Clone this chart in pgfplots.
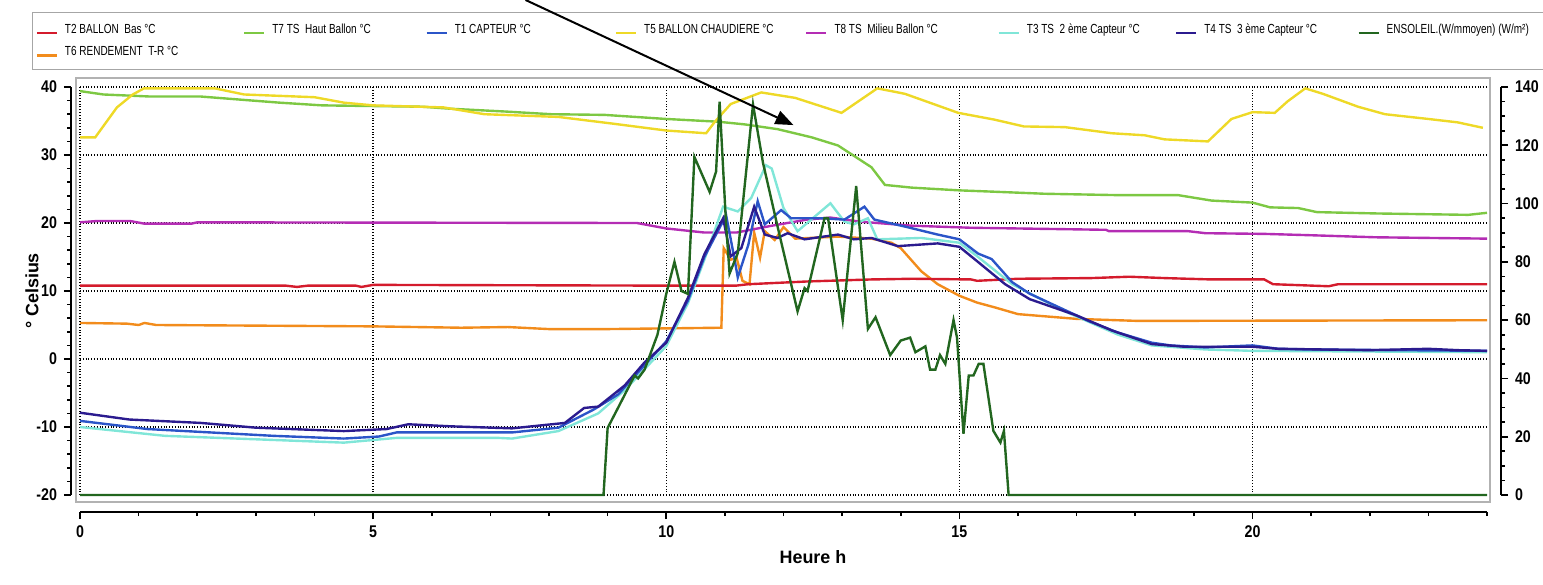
\documentclass[border=0pt]{standalone}
\usepackage{fontspec}
\setmainfont{Liberation Sans}
\newfontfamily\narrow[FakeStretch=0.84]{Liberation Sans}
\newfontfamily\legfont[FakeStretch=0.76]{Liberation Sans}
\usepackage{pgfplots}
\pgfplotsset{compat=1.18}
\usetikzlibrary{arrows.meta}

\definecolor{tred}{HTML}{D41B2C}
\definecolor{tlime}{HTML}{7DC843}
\definecolor{tblue}{HTML}{2B55C8}
\definecolor{tyellow}{HTML}{EED927}
\definecolor{tmagenta}{HTML}{B42DB4}
\definecolor{tcyan}{HTML}{80E6D8}
\definecolor{tnavy}{HTML}{2B1B8F}
\definecolor{tsun}{HTML}{22661F}
\definecolor{torange}{HTML}{F28C1C}

\pgfplotsset{
  common/.style={
    width=703.5bp, height=204bp, scale only axis,
    xmin=0, xmax=24, clip=false,
    tick align=outside, major tick length=3.5bp, minor tick length=2bp,
    tick style={black, line width=0.8pt},
    axis line style={black, line width=0.8pt},
    ticklabel style={font=\narrow\bfseries\fontsize{8.5}{9}\selectfont},
    every axis plot/.append style={line width=1.2pt},
  },
}

\begin{document}
\begin{tikzpicture}
\begin{axis}[common, name=main,
  ymin=-20, ymax=40,
  axis x line*=bottom, axis y line*=left,
  axis x line shift=8.5bp, axis y line shift=4.5bp,
  xtick={0,5,10,15,20}, xticklabels={0,5,10,15,20},
  minor xtick={1,2,3,4,6,7,8,9,11,12,13,14,16,17,18,19,21,22,23,24},
  ytick={-20,-10,0,10,20,30,40}, yticklabels={-20,-10,0,10,20,30,40},
  minor y tick num=4,
  grid=major, major grid style={densely dotted, black, line width=0.7pt},
  xlabel={Heure h}, ylabel={° Celsius},
  label style={font=\bfseries\fontsize{9}{10}\selectfont},
  xlabel style={at={([xshift=14.75bp,yshift=-31bp]axis description cs:0.5,0)}, anchor=center},
  ylabel style={at={([xshift=-24bp]axis description cs:0,0.5)}, anchor=center},
  legend columns=8,
  legend cell align=left,
  legend image code/.code={\draw[#1] (0bp,0bp) -- (10bp,0bp);},
  legend style={at={(axis description cs:0,1)}, anchor=north west,
    xshift=-24bp, yshift=37.5bp, draw=gray!70, line width=0.6pt, fill=white,
    inner xsep=1.5bp, inner ysep=5.5bp,
    font=\legfont\fontsize{6.6}{7.5}\selectfont,
    nodes={inner sep=0pt, anchor=base west},
    column sep=3.5bp, row sep=5bp,
    /tikz/every even column/.append style={column sep=0pt}},
]
% T6 rendement
\addplot[torange, forget plot] coordinates {
(0,5.3) (0.8,5.2) (1.0,5.0) (1.1,5.3) (1.3,5.0) (5,4.8) (6.5,4.6) (7.3,4.7) (8,4.4) (9,4.4)
(10.94,4.6) (10.98,16.3) (11.1,14.6) (11.2,14.9) (11.3,11.5) (11.42,11.0) (11.5,18.6) (11.6,14.9)
(11.68,18.8) (11.85,17.5) (12.0,19.4) (12.2,17.7) (12.93,18.0) (13.5,17.7) (13.84,17.1) (14.0,16.3)
(14.35,12.9) (14.63,11.0) (15.0,9.3) (15.3,8.3) (15.6,7.6) (16.0,6.6) (17.0,5.9) (18.05,5.6) (24,5.7)
};
% T2 ballon bas
\addplot[tred, forget plot] coordinates {
(0,10.8) (3.5,10.8) (3.7,10.6) (3.9,10.8) (4.7,10.8) (4.8,10.6) (5,10.9) (9.5,10.8) (11.2,10.8)
(11.4,11.0) (12.4,11.4) (13.5,11.7) (14.2,11.8) (15.2,11.7) (15.3,11.5) (16,11.8) (17.25,11.9)
(17.9,12.1) (18.5,11.9) (19.3,11.7) (20.2,11.7) (20.35,11.0) (21.3,10.7) (21.46,11.0) (24,11.0)
};
% T8 milieu ballon
\addplot[tmagenta, forget plot] coordinates {
(0,20.1) (0.3,20.3) (0.85,20.3) (1.1,19.9) (1.9,19.9) (2.0,20.1) (9.5,20.0) (10,19.2) (10.65,18.6)
(11.2,18.6) (11.8,19.6) (12.4,20.5) (12.8,20.8) (13.3,20.2) (14.2,19.6) (15.2,19.3) (17.5,19.0)
(17.55,18.8) (18.9,18.8) (19.2,18.5) (20.2,18.4) (21,18.2) (22.1,17.9) (24,17.7)
};
% T7 haut ballon
\addplot[tlime, forget plot] coordinates {
(0,39.4) (0.4,38.9) (1.2,38.6) (2.06,38.6) (2.8,38.1) (3.4,37.7) (4.13,37.3) (5,37.2) (5.84,37.1)
(6.33,36.8) (7.24,36.4) (8.04,36.0) (8.95,35.9) (10,35.3) (10.88,34.9) (11.34,34.5) (11.9,33.8)
(12.48,32.6) (12.93,31.4) (13.5,28.2) (13.73,25.6) (14.19,25.2) (15,24.8) (15.6,24.6) (16.46,24.3)
(17.7,24.1) (18.73,24.1) (19.3,23.3) (20,23.0) (20.3,22.3) (20.78,22.2) (21.1,21.6) (22.14,21.4)
(23.68,21.2) (24,21.5)
};
% T5 ballon chaudiere
\addplot[tyellow, forget plot] coordinates {
(0,32.6) (0.26,32.6) (0.63,37.0) (0.9,38.9) (1.09,39.8) (2.3,39.8) (2.8,38.9) (4.0,38.5) (4.5,37.7)
(5.0,37.3) (6.2,37.0) (6.9,36.0) (8.16,35.6) (9.1,34.6) (10,33.6) (10.68,33.2) (10.83,34.9)
(11.1,37.5) (11.62,39.2) (12.2,38.4) (12.99,36.2) (13.6,39.8) (14.07,39.0) (14.98,36.2) (15.6,35.2)
(16.1,34.2) (16.8,34.1) (17.6,33.2) (18.16,32.9) (18.5,32.3) (19.24,32.0) (19.41,33.4) (19.64,35.3)
(20.0,36.3) (20.38,36.2) (20.6,37.9) (20.9,39.8) (21.2,39.0) (21.8,37.1) (22.26,36.0) (23.0,35.3)
(23.5,34.8) (23.93,34.0)
};
% T3 2eme capteur
\addplot[tcyan, forget plot] coordinates {
(0,-10.0) (1.45,-11.3) (4.5,-12.3) (5.4,-11.6) (7.13,-11.6) (7.37,-11.7) (8.16,-10.6) (8.84,-8.0)
(9.29,-4.6) (10,1.9) (10.37,8.2) (10.65,14.6) (10.97,22.4) (11.22,21.7) (11.45,23.7) (11.7,28.5)
(11.8,28.0) (12.0,22.2) (12.24,18.8) (12.8,22.9) (13.04,20.2) (13.2,19.8) (13.44,20.7) (13.6,17.6)
(14.35,17.8) (15.0,17.1) (15.32,15.0) (15.9,11.0) (16.75,7.2) (17.7,3.6) (18.28,2.0) (19.2,1.4)
(20,1.2) (24,1.0)
};
% T1 capteur
\addplot[tblue, forget plot] coordinates {
(0,-9.1) (1.15,-10.3) (3.3,-11.3) (4.5,-11.7) (5.1,-11.4) (5.4,-10.8) (7.37,-10.8) (8.16,-10.1)
(8.77,-7.4) (9.18,-5.2) (9.6,-1.2) (10,2.6) (10.37,8.6) (10.65,15.0) (10.94,19.8) (11.02,21.2)
(11.16,14.9) (11.22,12.0) (11.4,16.8) (11.56,23.2) (11.68,19.8) (11.96,21.9) (12.13,20.7)
(12.64,20.7) (13.04,20.5) (13.38,22.4) (13.55,20.5) (14.06,19.5) (14.63,18.3) (15.0,17.6)
(15.32,15.5) (15.55,14.7) (15.9,11.3) (16.2,9.6) (16.75,7.4) (17.2,5.6) (17.7,3.9) (18.28,2.4)
(18.6,2.0) (19.2,1.7) (20,2.0) (20.44,1.5) (21,1.4) (24,1.2)
};
% T4 3eme capteur
\addplot[tnavy, forget plot] coordinates {
(0,-7.9) (0.84,-8.9) (2.06,-9.4) (3.0,-10.1) (4.5,-10.6) (5.23,-10.3) (5.6,-9.6) (6.33,-9.9)
(7.37,-10.2) (8.16,-9.5) (8.27,-9.4) (8.6,-7.2) (8.84,-7.0) (9.29,-3.9) (9.63,-0.5) (10,2.4)
(10.37,9.0) (10.65,15.4) (10.97,20.7) (11.1,15.1) (11.28,16.3) (11.5,22.4) (11.68,18.3) (11.9,17.8)
(12.07,18.5) (12.36,17.6) (12.93,18.3) (13.2,17.6) (13.5,17.8) (13.95,16.6) (14.63,17.0) (15.0,16.5)
(15.3,14.4) (15.78,11.0) (16.2,8.8) (17.0,6.4) (17.6,4.2) (18.28,2.2) (18.85,1.8) (20,1.8)
(20.44,1.5) (22,1.3) (23.0,1.5) (23.5,1.3) (24,1.2)
};
\addlegendimage{tred}\addlegendentry{\makebox[89bp][l]{T2 BALLON\ \ Bas °C}}
\addlegendimage{tlime}\addlegendentry{\makebox[76.5bp][l]{T7 TS\ \ Haut Ballon °C}}
\addlegendimage{tblue}\addlegendentry{\makebox[80bp][l]{T1 CAPTEUR °C}}
\addlegendimage{tyellow}\addlegendentry{\makebox[80.5bp][l]{T5 BALLON CHAUDIERE °C}}
\addlegendimage{tmagenta}\addlegendentry{\makebox[81.5bp][l]{T8 TS\ \ Milieu Ballon °C}}
\addlegendimage{tcyan}\addlegendentry{\makebox[74bp][l]{T3 TS\ \ 2 ème Capteur °C}}
\addlegendimage{tnavy}\addlegendentry{\makebox[76.5bp][l]{T4 TS\ \ 3 ème Capteur °C}}
\addlegendimage{tsun}\addlegendentry{\makebox[77.5bp][l]{ENSOLEIL.(W/mmoyen) (W/m²)}}
\addlegendimage{torange}\addlegendentry{\makebox[89bp][l]{T6 RENDEMENT\ \ T-R °C}}
\draw[gray!60, line width=0.8pt] ([shift={(-2bp,-3.5bp)}]rel axis cs:0,0) rectangle ([shift={(1.5bp,4.5bp)}]rel axis cs:1,1);
\coordinate (A1) at (axis cs:7.6,52.8);
\coordinate (A2) at (axis cs:12.17,34.4);
\end{axis}

\begin{axis}[common,
  ymin=0, ymax=140,
  axis y line*=right, axis x line=none, axis y line shift=7bp,
  ytick={0,20,40,60,80,100,120,140}, yticklabels={0,20,40,60,80,100,120,140},
  minor y tick num=3,
]
% ensoleillement W/m2
\addplot[tsun] coordinates {
(0,0) (8.93,0) (9.0,23) (9.18,30) (9.46,41) (9.52,40) (9.63,43) (9.74,49) (9.85,55) (10,69)
(10.14,80) (10.26,70) (10.37,69) (10.48,116) (10.74,104) (10.85,111) (10.91,135) (11.02,93)
(11.08,76) (11.22,83) (11.48,134) (11.65,114) (11.9,92) (12.24,63) (12.36,71) (12.41,70)
(12.7,95) (12.76,95) (13.01,60) (13.24,106) (13.44,57) (13.57,61) (13.82,48) (14.0,53) (14.16,54)
(14.25,49) (14.42,51) (14.5,43) (14.59,43) (14.67,48) (14.76,45) (14.9,60) (14.96,54) (15.07,21)
(15.16,41) (15.24,41) (15.33,45) (15.41,45) (15.58,22) (15.7,18) (15.76,22) (15.84,0) (24,0)
};
\end{axis}
\draw[line width=1bp, -{Triangle[length=9bp,width=7bp]}] (A1) -- (A2);
\pgfresetboundingbox
\path[use as bounding box] ([shift={(-40bp,-45bp)}]main.south west) rectangle ([shift={(731.5bp,247.5bp)}]main.south west);
\end{tikzpicture}
\end{document}
